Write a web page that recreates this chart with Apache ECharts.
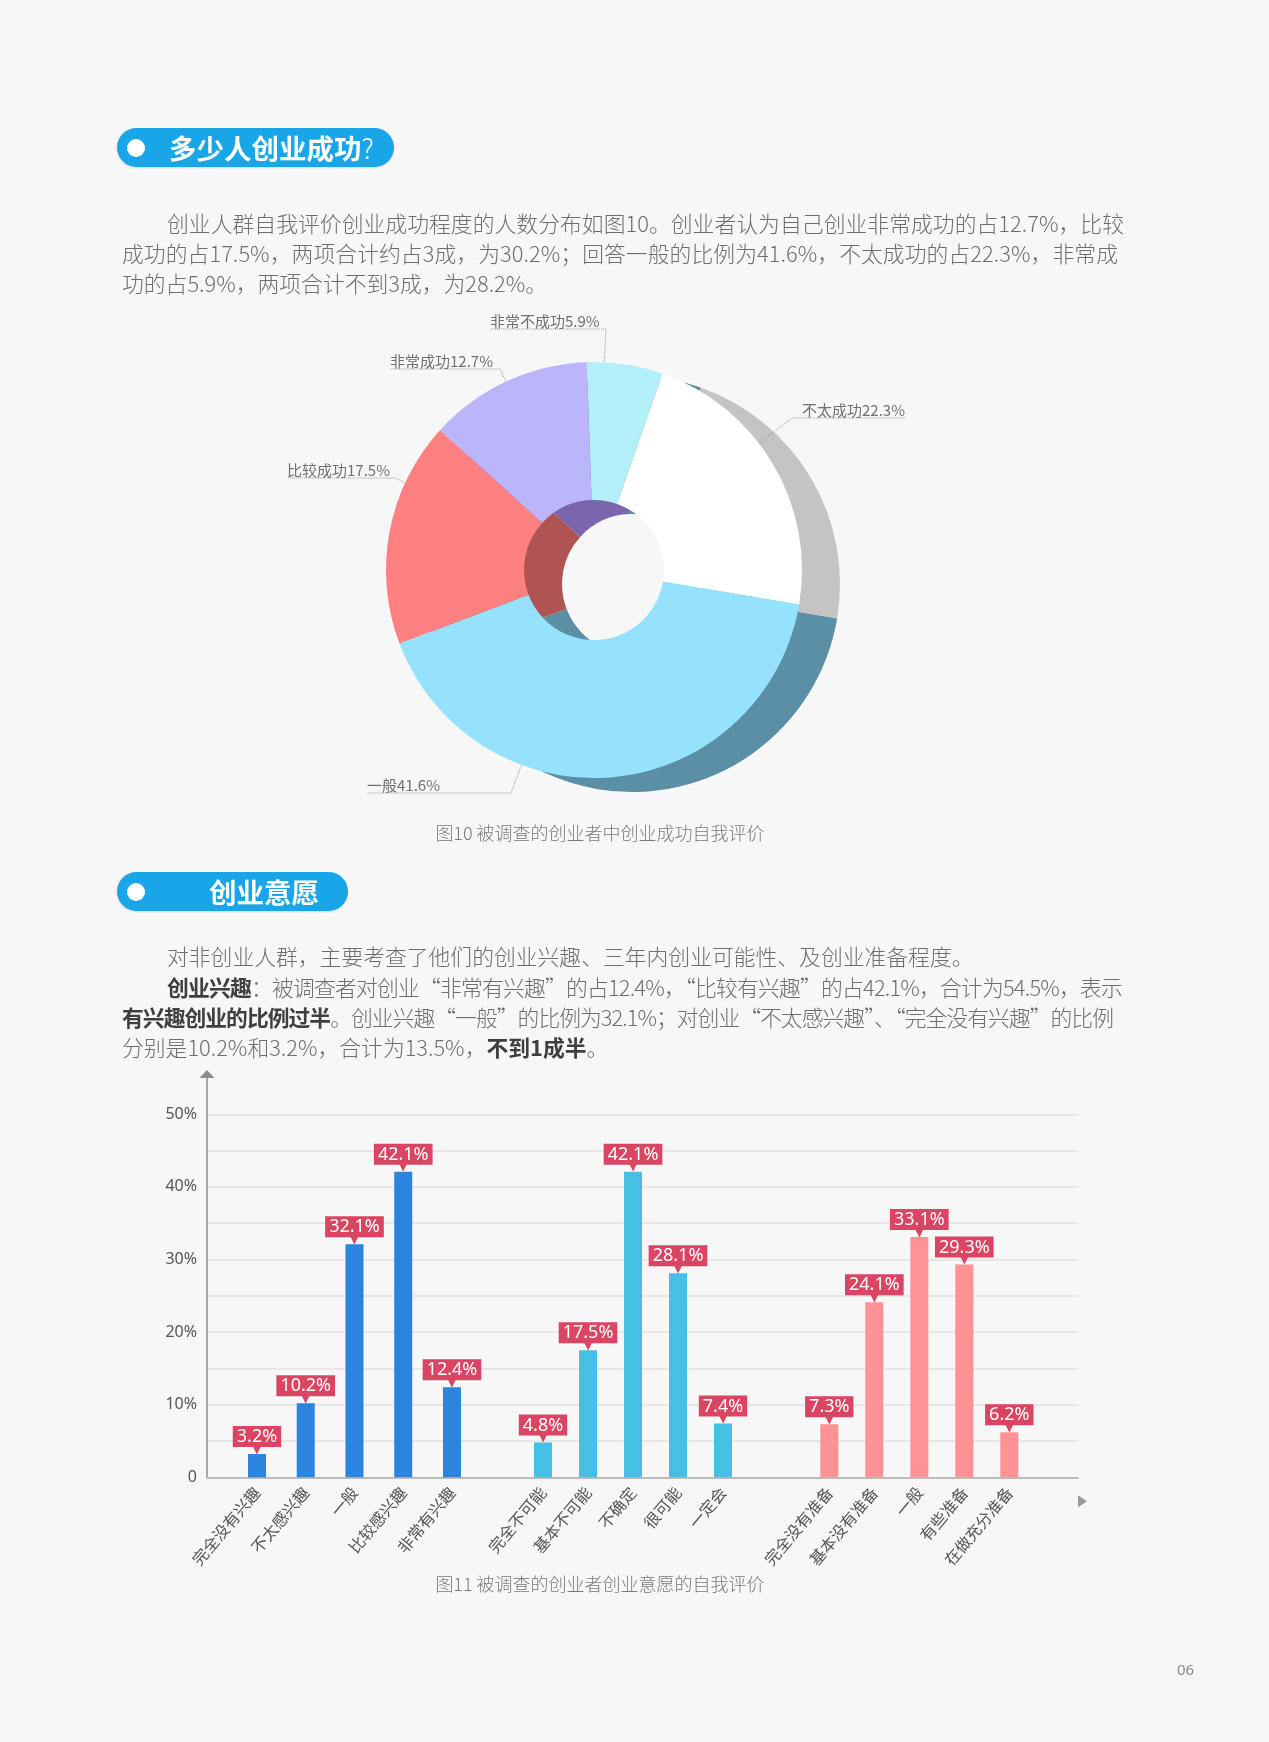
<!DOCTYPE html>
<html><head><meta charset="utf-8">
<script src="https://cdn.jsdelivr.net/npm/echarts@6/dist/echarts.min.js"></script>
<style>
html,body{margin:0;padding:0;background:#f7f7f7;}
#page{position:relative;width:1269px;height:1742px;overflow:hidden;background:#f7f7f7;font-family:"Noto Sans CJK SC","Noto Sans",sans-serif;}
#chart{position:absolute;left:0;top:0;width:1269px;height:1742px;}
.t{position:absolute;white-space:nowrap;z-index:2;}
.line{font-size:21.8px;line-height:30px;height:30px;color:#6e6e6e;font-weight:300;}
.line b{color:#3f3f3f;font-weight:700;}
.pill{position:absolute;height:39px;border-radius:20px;background:#19a6e9;z-index:2;box-shadow:0 1px 2px rgba(0,0,0,0.12);}
.pill .dot{position:absolute;left:10px;top:10.5px;width:18px;height:18px;border-radius:50%;background:#fff;}
.pill .tx{position:absolute;top:0;line-height:39px;font-size:27.5px;font-weight:700;color:#fff;white-space:nowrap;}
.cap{font-size:18px;color:#7a7a7a;line-height:24px;text-align:center;width:500px;font-weight:300;}
</style></head>
<body><div id="page">
<div id="chart"></div>

<div class="pill" style="left:117px;top:128px;width:277px;"><div class="dot"></div><div class="tx" style="left:52px;">多少人创业成功<span style="font-weight:300">?</span></div></div>

<div class="t line fit" data-w="957" style="left:167px;top:208px;">创业人群自我评价创业成功程度的人数分布如图10。创业者认为自己创业非常成功的占12.7%，比较</div>
<div class="t line fit" data-w="996" style="left:122px;top:238px;">成功的占17.5%，两项合计约占3成，为30.2%；回答一般的比例为41.6%，不太成功的占22.3%，非常成</div>
<div class="t line" style="left:122px;top:268px;">功的占5.9%，两项合计不到3成，为28.2%。</div>

<div class="t cap" style="left:350px;top:820px;">图10 被调查的创业者中创业成功自我评价</div>

<div class="pill" style="left:117px;top:872px;width:231px;"><div class="dot"></div><div class="tx" style="left:92px;">创业意愿</div></div>

<div class="t line" style="left:167px;top:941px;">对非创业人群，主要考查了他们的创业兴趣、三年内创业可能性、及创业准备程度。</div>
<div class="t line fit" data-w="955" style="left:167px;top:972px;"><b>创业兴趣</b>：被调查者对创业“非常有兴趣”的占12.4%，“比较有兴趣”的占42.1%，合计为54.5%，表示</div>
<div class="t line fit" data-w="991" style="left:122px;top:1002px;"><b>有兴趣创业的比例过半</b>。创业兴趣“一般”的比例为32.1%；对创业“不太感兴趣”、“完全没有兴趣”的比例</div>
<div class="t line" style="left:122px;top:1032px;">分别是10.2%和3.2%，合计为13.5%，<b>不到1成半</b>。</div>

<div class="t cap" style="left:350px;top:1571px;">图11 被调查的创业者创业意愿的自我评价</div>

<div class="t" style="left:1177px;top:1658px;font-size:15px;color:#888;font-family:'Noto Sans',sans-serif;line-height:22px;">06</div>
</div>

<script>
// ---------- data ----------
const pieNames = ['非常不成功', '不太成功', '一般', '比较成功', '非常成功'];
const pieValues = [5.9, 22.3, 41.6, 17.5, 12.7];

const interestCats = ['完全没有兴趣', '不太感兴趣', '一般', '比较感兴趣', '非常有兴趣'];
const interestValues = [3.2, 10.2, 32.1, 42.1, 12.4];
const possibilityCats = ['完全不可能', '基本不可能', '不确定', '很可能', '一定会'];
const possibilityValues = [4.8, 17.5, 42.1, 28.1, 7.4];
const prepCats = ['完全没有准备', '基本没有准备', '一般', '有些准备', '在做充分准备'];
const prepValues = [7.3, 24.1, 33.1, 29.3, 6.2];
const yTickLabels = [0, 10, 20, 30, 40, 50];

// ---------- styles / layout ----------
const pieTopColors = ['#b2eff9', '#ffffff', '#94e2fd', '#ff8080', '#bbb6fc'];
const pieSideColors = ['#5b8b8e', '#c4c4c4', '#5b8fa6', '#b05353', '#7b65ad'];
const PIE_C = [594, 570], PIE_R = [70, 208], PIE_SHADOW = [38, 14], START = 92;
const pieLabelPos = [
  {x: 490, y: 329, near: 606, side: 'left'},
  {x: 802, y: 418, near: 792, side: 'right'},
  {x: 367, y: 793, near: 511, side: 'left'},
  {x: 287, y: 478, near: 395, side: 'left'},
  {x: 390, y: 369, near: 500, side: 'left'}
];

const GRID_LEFT = 207, GRID_W = 871, GRID_TOP = 1078, GRID_H = 399.3, Y_MAX = 55;
const groupGrids = [
  {left: 232.6, width: 243.75},
  {left: 520.5, width: 225},
  {left: 806.8, width: 225}
];
const barColors = ['#2b84dd', '#45bfe4', '#ff9294'];
const tagColor = '#da4563';

// slice angular ranges (clockwise from 12 o'clock, degrees)
const total = pieValues.reduce((a, b) => a + b, 0);
const sliceRanges = [];
(function () {
  let a = 90 - START;
  pieValues.forEach(v => { const s = v / total * 360; sliceRanges.push([a, a + s]); a += s; });
})();

const chart = echarts.init(document.getElementById('chart'), null, {renderer: 'canvas'});

const catAxis = (gi, data) => ({
  gridIndex: gi, type: 'category', data: data,
  axisLine: {show: false}, axisTick: {show: false},
  axisLabel: {interval: 0, rotate: 50, margin: 12, fontSize: 16, color: '#555', fontFamily: 'Noto Sans CJK SC'}
});
const hiddenY = gi => ({gridIndex: gi, type: 'value', min: 0, max: Y_MAX, show: false});
const barLabel = {
  show: true, position: 'top', distance: 1,
  formatter: p => '{v|' + p.value + '%}\n{a|▼}',
  rich: {
    v: {backgroundColor: tagColor, color: '#fff', fontSize: 18, lineHeight: 19, padding: [2, 4, 1, 4], fontFamily: 'Noto Sans'},
    a: {color: tagColor, fontSize: 12, lineHeight: 7, fontFamily: 'DejaVu Sans'}
  }
};

const option = {
  animation: false,
  grid: [
    {left: GRID_LEFT, top: GRID_TOP, width: GRID_W, height: GRID_H},
    ...groupGrids.map(g => ({left: g.left, top: GRID_TOP, width: g.width, height: GRID_H}))
  ],
  xAxis: [
    {gridIndex: 0, type: 'value', min: 0, max: 1,
      axisLine: {show: true, lineStyle: {color: '#bcbcbc', width: 2}},
      axisTick: {show: false}, axisLabel: {show: false}, splitLine: {show: false}},
    catAxis(1, interestCats), catAxis(2, possibilityCats), catAxis(3, prepCats)
  ],
  yAxis: [
    {gridIndex: 0, type: 'value', min: 0, max: Y_MAX, interval: 5,
      axisLine: {show: true, symbol: ['none', 'triangle'], symbolSize: [15, 8], symbolOffset: [0, 4],
        lineStyle: {color: '#8e8e8e', width: 1.5}},
      axisTick: {show: false},
      axisLabel: {fontSize: 16, color: '#555', margin: 10, fontFamily: 'Noto Sans',
        formatter: v => yTickLabels.indexOf(v) >= 0 ? (v === 0 ? '0' : v + '%') : ''},
      splitLine: {show: true, showMaxLine: false, lineStyle: {color: '#e2e2e2', width: 1.5}}},
    hiddenY(1), hiddenY(2), hiddenY(3)
  ],
  graphic: [{
    type: 'polygon', silent: true,
    shape: {points: [[0, 0], [9, 6], [0, 12]]},
    x: GRID_LEFT + GRID_W, y: GRID_TOP + GRID_H + 18,
    style: {fill: '#9a9a9a'}
  }],
  series: [
    {type: 'pie', silent: true, z: 1,
      center: [PIE_C[0] + PIE_SHADOW[0], PIE_C[1] + PIE_SHADOW[1]], radius: PIE_R,
      startAngle: START, clockwise: true,
      label: {show: false}, labelLine: {show: false},
      data: pieNames.map((n, i) => ({name: n, value: pieValues[i], itemStyle: {color: pieSideColors[i]}}))},
    {type: 'pie', z: 2, center: PIE_C, radius: PIE_R, startAngle: START, clockwise: true,
      avoidLabelOverlap: false,
      label: {show: true, position: 'outside', fontSize: 15, color: '#707070', fontFamily: 'Noto Sans CJK SC',
        formatter: p => p.name + p.value + '%'},
      labelLine: {show: true, length: 10, length2: 10, lineStyle: {type: 'dotted', color: '#9a9a9a', width: 1}},
      labelLayout: function (params) {
        const i = params.dataIndex;
        const pos = pieLabelPos[i];
        const w = params.labelRect.width;
        const far = pos.side === 'right' ? pos.x + w : pos.x;
        let ang = Math.atan2(pos.near - PIE_C[0], -(pos.y - PIE_C[1])) * 180 / Math.PI;
        const rg = sliceRanges[i];
        while (ang < rg[0] - 180) ang += 360;
        while (ang > rg[1] + 180) ang -= 360;
        ang = Math.min(Math.max(ang, rg[0] + 4), rg[1] - 4);
        const rr = PIE_R[1] * 0.93;
        const ax = PIE_C[0] + rr * Math.sin(ang * Math.PI / 180);
        const ay = PIE_C[1] - rr * Math.cos(ang * Math.PI / 180);
        return {
          x: pos.x, y: pos.y, align: 'left', verticalAlign: 'bottom',
          labelLinePoints: [[ax, ay], [pos.near, pos.y], [far, pos.y]]
        };
      },
      data: pieNames.map((n, i) => ({name: n, value: pieValues[i], itemStyle: {color: pieTopColors[i]}}))},
    {type: 'bar', xAxisIndex: 1, yAxisIndex: 1, data: interestValues, barWidth: 18,
      itemStyle: {color: barColors[0]}, label: barLabel},
    {type: 'bar', xAxisIndex: 2, yAxisIndex: 2, data: possibilityValues, barWidth: 18,
      itemStyle: {color: barColors[1]}, label: barLabel},
    {type: 'bar', xAxisIndex: 3, yAxisIndex: 3, data: prepValues, barWidth: 18,
      itemStyle: {color: barColors[2]}, label: barLabel}
  ]
};
chart.setOption(option);

function fitLines() {
  document.querySelectorAll('.fit').forEach(el => {
    el.style.letterSpacing = '0px';
    const target = +el.dataset.w;
    const natural = el.getBoundingClientRect().width;
    const n = Array.from(el.textContent).length;
    el.style.letterSpacing = ((target - natural) / n) + 'px';
  });
}
fitLines();
if (document.fonts && document.fonts.ready) document.fonts.ready.then(fitLines);
</script>
</body></html>
